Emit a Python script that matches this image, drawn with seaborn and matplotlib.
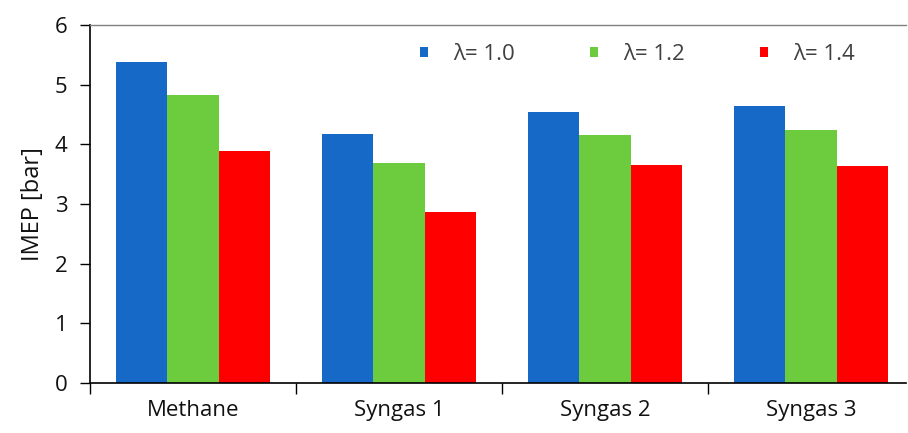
import matplotlib
matplotlib.use("Agg")
import matplotlib.pyplot as plt
import seaborn as sns
import pandas as pd
from matplotlib.ticker import FixedLocator, NullFormatter

categories = ["Methane", "Syngas 1", "Syngas 2", "Syngas 3"]
lambdas = ["λ= 1.0", "λ= 1.2", "λ= 1.4"]
imep_10 = [5.38, 4.18, 4.55, 4.64]
imep_12 = [4.83, 3.68, 4.16, 4.24]
imep_14 = [3.89, 2.87, 3.66, 3.64]
colors = ["#1669C6", "#6CCC3E", "#FF0000"]

rows = []
for lam, vals in zip(lambdas, [imep_10, imep_12, imep_14]):
    for c, v in zip(categories, vals):
        rows.append({"cat": c, "lam": lam, "val": v})
df = pd.DataFrame(rows)

sns.set_theme(style="white")
plt.rcParams['font.family'] = ['Open Sans', 'DejaVu Sans']

fig = plt.figure(figsize=(9.08, 4.33), dpi=100)
ax = fig.add_axes([0.099, 0.1155, 0.899, 0.8268])
sns.barplot(data=df, x="cat", y="val", hue="lam", order=categories,
            hue_order=lambdas, palette=colors, width=0.75, gap=0,
            saturation=1, ax=ax, edgecolor="none", linewidth=0)

ax.set_ylim(0, 6)
ax.set_xlim(-0.5, 3.461)
ax.set_yticks([0, 1, 2, 3, 4, 5, 6])
ax.tick_params(axis="y", labelsize=16, length=7, width=1, color="black",
               left=True, pad=9, labelcolor="#111111")
# category boundaries as major ticks, labels at minor positions
ax.xaxis.set_major_locator(FixedLocator([-0.5, 0.5, 1.5, 2.5]))
ax.xaxis.set_major_formatter(NullFormatter())
ax.xaxis.set_minor_locator(FixedLocator([0, 1, 2, 3]))
ax.set_xticklabels(categories, minor=True)
ax.tick_params(axis="x", which="major", bottom=True, length=8, width=1, color="black")
ax.tick_params(axis="x", which="minor", bottom=True, length=0, labelsize=16,
               pad=12, labelcolor="#111111")
ax.set_xlabel("")
ax.set_ylabel("IMEP [bar]", fontsize=17, color="#111111", labelpad=7)

for s in ["left", "bottom"]:
    ax.spines[s].set_color("black")
    ax.spines[s].set_linewidth(1.2)
ax.spines["top"].set_color("#808080")
ax.spines["top"].set_linewidth(1.0)
ax.spines["right"].set_visible(False)

leg = ax.legend(loc="center left", bbox_to_anchor=(0.405, 0.917), ncol=3,
                frameon=False, fontsize=16, handlelength=0.32, handleheight=0.32,
                handletextpad=1.15, columnspacing=3.4, borderpad=0,
                borderaxespad=0, labelcolor="#404040")

fig.savefig("out.png", dpi=100)
